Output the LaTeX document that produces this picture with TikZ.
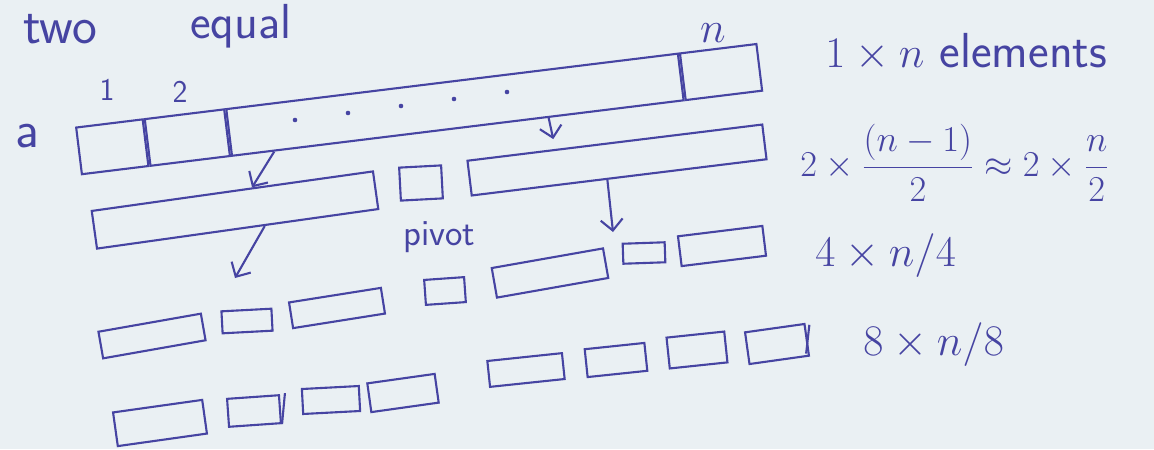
\documentclass[tikz,border=0pt]{standalone}
\usepackage{amsmath}
\usetikzlibrary{positioning,calc,arrows.meta}
\definecolor{ink}{RGB}{70,68,162}
\definecolor{paper}{RGB}{234,240,243}
\newcommand{\fsz}[1]{\fontsize{#1}{#1}\selectfont}
\tikzset{
	box/.style 2 args={draw=ink, line width=1.2pt, inner sep=0pt, minimum width=#1*0.2mm, minimum height=#2*0.2mm},
	sk/.style={ink, line width=1.2pt},
	arr/.style={sk, -{Straight Barb[length=2.2mm,width=4.4mm]}},
	lbl/.style={text=ink, inner sep=0pt},
}
\begin{document}
\begin{tikzpicture}[x=0.2mm, y=-0.2mm, every node/.style={font=\sffamily}]
	\path[use as bounding box, fill=paper] (0,0) rectangle (1154,449);
	\node[lbl, font=\sffamily\fsz{30}, anchor=base west] (two) at (23,43) {two};
	\node[lbl, font=\sffamily\fsz{28}, anchor=base west] (equal) at (190,38) {equal};
	\node[lbl, font=\sffamily\fsz{30}, anchor=base] (la) at (27,147) {a};
	\node[box={67}{47}, rotate=7, anchor=west] (c1) at (78,151) {};
	\node[box={80}{47}, rotate=7, right=0pt of c1] (c2) {};
	\node[box={455}{47}, rotate=7, right=0pt of c2] (cmid) {};
	\node[box={77}{47}, rotate=7, right=0pt of cmid] (cn) {};
	\node[lbl, font=\sffamily\fsz{18}, anchor=base] (lone) at (107,100) {1};
	\node[lbl, font=\sffamily\fsz{18}, anchor=base] (ltwo) at (180,102) {2};
	\node[lbl, font=\fsz{30}, anchor=base] (ln) at (713,42) {$n$};
	\foreach \i in {0,...,4}
		\fill[ink] (295+53*\i, 120-7*\i) circle (1.3pt);
	\node[box={284}{38}, rotate=8] (L1) at (235,210) {};
	\node[box={42}{33}, rotate=3] (P1) at (421,183) {};
	\node[box={297}{35}, rotate=7] (R1) at (617,160) {};
	\node[lbl, font=\sffamily\fsz{21}, anchor=base west] (piv) at (403,245) {pivot};
	\node[box={104}{27}, rotate=10] (A) at (152,336) {};
	\node[box={50}{22}, rotate=3] (B) at (247,321) {};
	\node[box={93}{26}, rotate=9] (C) at (337,308) {};
	\node[box={40}{25}, rotate=4] (P2) at (445,291) {};
	\node[box={113}{30}, rotate=10] (D) at (550,273) {};
	\node[box={42}{20}, rotate=2] (E) at (644,253) {};
	\node[box={85}{30}, rotate=7] (F) at (722,246) {};
	\node[box={90}{34}, rotate=8] (G) at (160,423) {};
	\node[box={52}{28}, rotate=4] (H) at (254,411) {};
	\node[box={57}{25}, rotate=3] (I) at (331,400) {};
	\node[box={68}{29}, rotate=8] (J) at (403,393) {};
	\node[box={75}{26}, rotate=6] (K) at (526,370) {};
	\node[box={60}{28}, rotate=6] (L) at (616,360) {};
	\node[box={58}{31}, rotate=6] (M) at (697,350) {};
	\node[box={60}{32}, rotate=8] (N) at (777,344) {};
	\draw[sk] ($(H.north east)+(5,-1)$) -- (H.south east);
	\draw[sk] ($(N.north east)+(4,2)$) -- ($(N.south east)+(-4,-3)$);
	\coordinate (t3) at (235,278);
	\coordinate (t4) at (613,232);
	\draw[arr] ($(cmid.south west)!.095!(cmid.south east)$) -- ($(L1.north west)!.57!(L1.north east)$);
	\draw[arr, shorten >=2mm] ($(cmid.south west)!.70!(cmid.south east)$) -- ($(R1.north west)!.30!(R1.north east)$);
	\draw[arr] ($(L1.south west)!.595!(L1.south east)$) -- (t3);
	\draw[arr] ($(R1.south west)!.46!(R1.south east)$) -- (t4);
	\node[lbl, font=\sffamily\fsz{28}, anchor=base west] (r0) at (825,67) {$1\times n$ elements};
	\node[lbl, font=\fsz{22}, anchor=west] (r1) at (800,163) {$2\times\dfrac{(n-1)}{2}\approx 2\times\dfrac{n}{2}$};
	\node[lbl, font=\fsz{24}, anchor=base west] (r2) at (815,266) {$4\times n/4$};
	\node[lbl, font=\fsz{24}, anchor=base west] (r3) at (863,355) {$8\times n/8$};
\end{tikzpicture}
\end{document}
